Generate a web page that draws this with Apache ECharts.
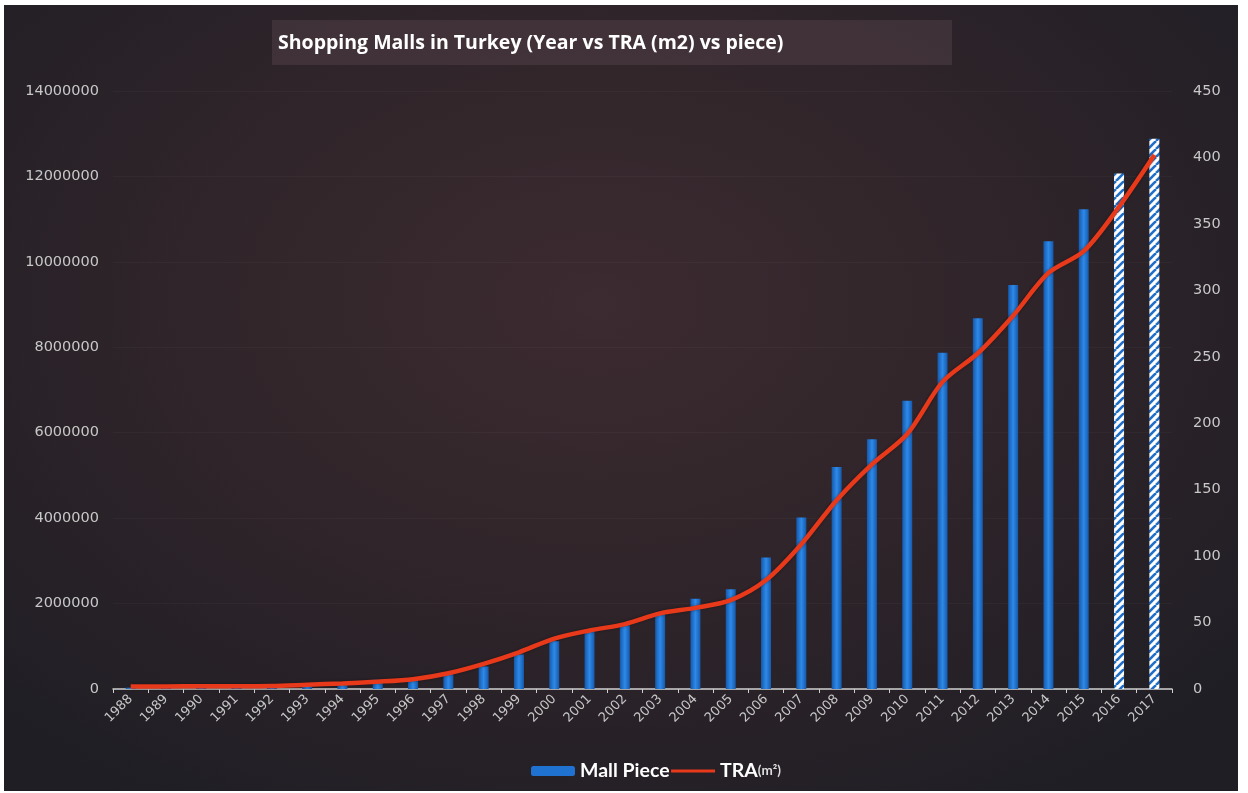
<!DOCTYPE html>
<html>
<head>
<meta charset="utf-8">
<script src="https://cdn.jsdelivr.net/npm/echarts@6/dist/echarts.min.js"></script>
<style>
  html, body { margin:0; padding:0; background:#ffffff; width:1248px; height:793px; overflow:hidden; }
  #chart { position:absolute; left:4px; top:5px; width:1234px; height:786px;
    background: radial-gradient(ellipse 70% 75% at 48% 38%, #3c2b31 0%, #30252a 45%, #1f1e25 100%); }
</style>
</head>
<body>
<div id="chart"></div>
<script>
const years = ['1988','1989','1990','1991','1992','1993','1994','1995','1996','1997','1998','1999','2000','2001','2002','2003','2004','2005','2006','2007','2008','2009','2010','2011','2012','2013','2014','2015','2016','2017'];
const mallPiece = [1,1,1,1,2,4,5,7,8,12,17,26,36,45,48,57,68,75,99,129,167,188,217,253,279,304,337,361,388,414];
const traM2 = [60000,60000,65000,65000,70000,100000,130000,170000,230000,370000,590000,860000,1180000,1370000,1520000,1770000,1900000,2080000,2550000,3390000,4420000,5260000,5970000,7190000,7860000,8740000,9740000,10250000,11290000,12500000];
const projectedYears = ['2016','2017'];
const leftTicks = { min:0, max:14000000, interval:2000000 };
const rightTicks = { min:0, max:450, interval:50 };

// striped pattern for projected bars
const pc = document.createElement('canvas');
pc.width = 8; pc.height = 8;
const g = pc.getContext('2d');
g.fillStyle = '#ffffff'; g.fillRect(0,0,8,8);
g.strokeStyle = '#1f6fc8'; g.lineWidth = 2.6;
for (let o = -8; o <= 8; o += 8) { g.beginPath(); g.moveTo(o, 8); g.lineTo(o + 8, 0); g.stroke(); }
const stripe = { image: pc, repeat: 'repeat' };

const barGrad = new echarts.graphic.LinearGradient(0,0,1,0,[
  {offset:0, color:'#1559ad'},{offset:0.5, color:'#2e8ae8'},{offset:1, color:'#1559ad'}]);

const barData = mallPiece.map((v,i) => projectedYears.includes(years[i])
  ? { value: v, itemStyle: { color: stripe } } : v);

const chart = echarts.init(document.getElementById('chart'), null, {renderer:'canvas'});
const labelFont = '"DejaVu Sans", Lato, sans-serif';
const boldFont = 'Lato, "Open Sans", sans-serif';
chart.setOption({
  backgroundColor: 'transparent',
  animation: false,
  graphic: [{ type:'rect', left:268, top:15, shape:{width:680, height:45}, style:{fill:'rgba(80,62,70,0.55)'}, z:0 }],
  title: { text: 'Shopping Malls in Turkey (Year vs TRA (m2) vs piece)', left: 269, top: 23,
    textStyle: { color:'#ffffff', fontSize:19.5, fontWeight:'bold', fontFamily: '"Open Sans", Lato, sans-serif' } },
  legend: { bottom: 5, left: 522, itemGap: 0, itemWidth: 44, itemHeight: 10,
    textStyle: { color:'#ffffff', fontSize:19.5, fontWeight:'bold', fontFamily: boldFont,
      rich: { b:{ color:'#fff', fontSize:19.5, fontWeight:'bold', fontFamily: boldFont }, s:{ color:'#ddd', fontSize:13.5, fontFamily: boldFont } } },
    formatter: n => n === 'TRA' ? '{b|TRA}{s|(m²)}' : n,
    data: [ { name:'Mall Piece', itemStyle:{ color:'#1f72cf' } },
            { name:'TRA', itemStyle:{ opacity:0 }, lineStyle:{ color:'#e8391a', width:3 } } ] },
  grid: { left: 109, right: 66, top: 86, bottom: 102, containLabel:false },
  xAxis: { type:'category', data: years, boundaryGap: true,
    axisLine: { lineStyle: { color:'#d0d0d0', width:1.5 } },
    axisTick: { show:true, alignWithLabel:false, length:4, lineStyle:{ color:'#d0d0d0' } },
    axisLabel: { rotate: 45, color:'#c8c8c8', fontSize:13, fontFamily: labelFont, margin:8, interval:0 } },
  yAxis: [
    { type:'value', position:'left', min:leftTicks.min, max:leftTicks.max, interval:leftTicks.interval,
      axisLine:{show:false}, axisTick:{show:false},
      axisLabel:{ color:'#c8c8c8', fontSize:14.5, fontFamily: labelFont, margin:14, formatter: v => String(v) },
      splitLine:{ show:true, lineStyle:{ color:'rgba(255,255,255,0.03)' } } },
    { type:'value', position:'right', min:rightTicks.min, max:rightTicks.max, interval:rightTicks.interval,
      axisLine:{show:false}, axisTick:{show:false},
      axisLabel:{ color:'#c8c8c8', fontSize:14.5, fontFamily: labelFont, margin:21 },
      splitLine:{ show:false } }
  ],
  series: [
    { name:'Mall Piece', type:'bar', yAxisIndex:1, data: barData, barWidth:10,
      itemStyle:{ color: barGrad } },
    { name:'TRA', type:'line', yAxisIndex:0, data: traM2, smooth:0.3, symbol:'none',
      lineStyle:{ color:'#e8391a', width:4.5, shadowColor:'rgba(0,0,0,0.4)', shadowBlur:3 },
      itemStyle:{ color:'#e8391a' }, z:5 }
  ]
});
</script>
</body>
</html>
